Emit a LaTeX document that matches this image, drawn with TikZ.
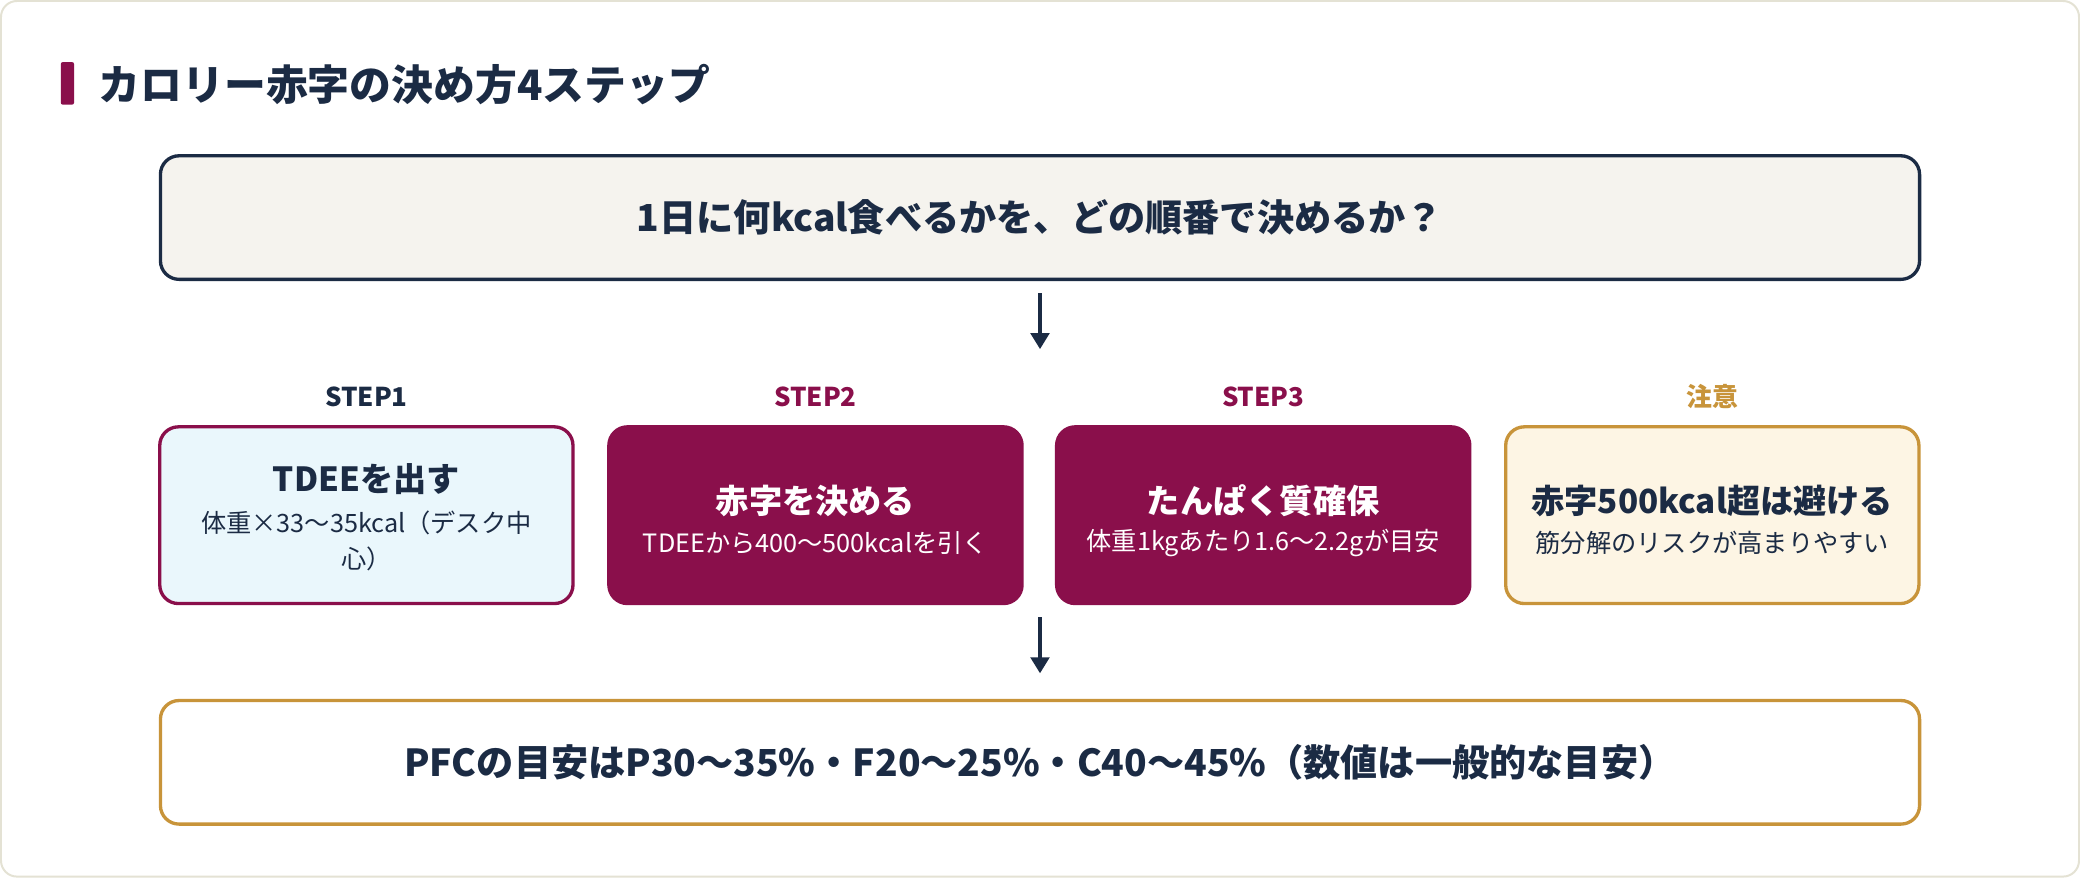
\documentclass[tikz,border=0pt]{standalone}
\usepackage{fontspec}
\setmainfont{Noto Sans CJK JP}
\usetikzlibrary{positioning, arrows.meta}
\definecolor{navy}{HTML}{1B2B44}
\definecolor{maroon}{HTML}{8A0F4B}
\definecolor{gold}{HTML}{C8943A}
\definecolor{paper}{HTML}{F5F3EE}
\definecolor{sky}{HTML}{EAF7FC}
\definecolor{cream}{HTML}{FDF5E4}
\definecolor{frame}{HTML}{E4E2D4}

\begin{document}
\begin{tikzpicture}[x=1pt, y=-1pt,
    bigbox/.style={rectangle, rounded corners=14pt, line width=2.5pt, minimum width=1324pt, minimum height=93pt, font=\fontsize{28}{32}\selectfont\bfseries, text=navy},
    stepbox/.style={rectangle, rounded corners=14pt, line width=2.5pt, minimum width=311pt, minimum height=133pt},
    steplabel/.style={font=\fontsize{19.5}{22}\selectfont\bfseries},
    headtext/.style={font=\fontsize{25}{28}\selectfont\bfseries, inner sep=0pt},
    subtext/.style={font=\fontsize{19}{22}\selectfont, inner sep=0pt},
    flow/.style={-{Triangle[length=12pt, width=14pt]}, line width=2.5pt, draw=navy},
]
\draw[frame, fill=white, line width=1.5pt, rounded corners=12pt] (2,2) rectangle (1566,661);
\fill[maroon, rounded corners=1.5pt] (47,48) rectangle (57,80);
\node[anchor=west, text=navy, font=\fontsize{31.5}{34}\selectfont\bfseries] (title) at (72,65) {カロリー赤字の決め方4ステップ};

\node[bigbox, draw=navy, fill=paper] (question) at (784,165) {1日に何kcal食べるかを、どの順番で決めるか？};

% steps
\node[stepbox, draw=maroon, fill=sky] (s1) at (277,389) {};
\node[stepbox, draw=maroon, fill=maroon] (s2) at (615,389) {};
\node[stepbox, draw=maroon, fill=maroon] (s3) at (952,389) {};
\node[stepbox, draw=gold, fill=cream] (s4) at (1290,389) {};

\node[headtext, text=navy] (h1) at (277,362) {TDEEを出す};
\node[subtext, text=navy] (t1) at (277,395) {体重×33〜35kcal（デスク中};
\node[subtext, text=navy] (u1) at (277,422) {心）};
\node[headtext, text=white] (h2) at (615,378) {赤字を決める};
\node[subtext, text=white] (t2) at (615,410) {TDEEから400〜500kcalを引く};
\node[headtext, text=white] (h3) at (952,378) {たんぱく質確保};
\node[subtext, text=white] (t3) at (952,410) {体重1kgあたり1.6〜2.2gが目安};
\node[headtext, text=navy] (h4) at (1290,378) {赤字500kcal超は避ける};
\node[subtext, text=navy] (t4) at (1290,410) {筋分解のリスクが高まりやすい};

\node[steplabel, text=navy] (l1) at (277,300) {STEP1};
\node[steplabel, text=maroon] (l2) at (615,300) {STEP2};
\node[steplabel, text=maroon] (l3) at (952,300) {STEP3};
\node[steplabel, text=gold] (l4) at (1290,300) {注意};

\node[bigbox, draw=gold, fill=white] (pfc) at (784,575) {PFCの目安はP30〜35\%・F20〜25\%・C40〜45\%（数値は一般的な目安）};

\coordinate (a1) at (784,222);
\coordinate (b1) at (784,264);
\coordinate (a2) at (784,466);
\coordinate (b2) at (784,508);
\draw[flow] (a1) -- (b1);
\draw[flow] (a2) -- (b2);
\end{tikzpicture}
\end{document}
